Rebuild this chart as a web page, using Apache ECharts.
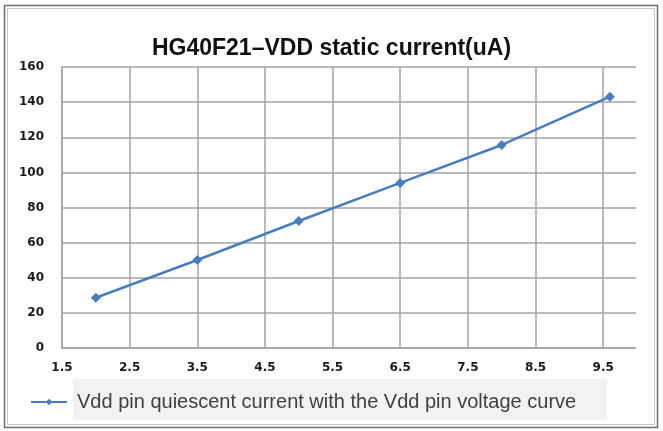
<!DOCTYPE html>
<html>
<head>
<meta charset="utf-8">
<script src="https://cdn.jsdelivr.net/npm/echarts@6/dist/echarts.min.js"></script>
<style>
  html, body { margin: 0; padding: 0; background: #fff; }
  #chart { width: 663px; height: 431px; }
</style>
</head>
<body>
<div id="chart"></div>
<script>
var voltage = [2.0, 3.5, 5.0, 6.5, 8.0, 9.6];
var current = [28.6, 50.1, 72.3, 94.0, 115.6, 143.1];
var seriesName = 'Vdd pin quiescent current with the Vdd pin voltage curve';

var myChart = echarts.init(document.getElementById('chart'));
var gridColor = '#a3a3a3';
var labelFont = { color: '#1a1a1a', fontFamily: 'DejaVu Sans', fontWeight: 'bold', fontSize: 12 };

var option = {
    animation: false,
    backgroundColor: '#fff',
    title: {
        text: 'HG40F21\u2013VDD static current(uA)',
        left: 'center',
        top: 32,
        textStyle: { fontFamily: 'Liberation Sans', fontWeight: 'bold', fontSize: 23, color: '#111' }
    },
    grid: { left: 62, right: 26, top: 67, bottom: 83 },
    xAxis: {
        type: 'value',
        min: 1.5,
        max: 10,
        interval: 1,
        axisLine: { show: true, lineStyle: { color: gridColor, width: 1.5 } },
        axisTick: { show: false },
        axisLabel: Object.assign({ margin: 14, showMaxLabel: false,
            formatter: function (v) { return v.toFixed(1); } }, labelFont),
        splitLine: { show: true, showMaxLine: false, lineStyle: { color: gridColor, width: 1.5 } }
    },
    yAxis: {
        type: 'value',
        min: 0,
        max: 160,
        interval: 20,
        axisLine: { show: true, lineStyle: { color: gridColor, width: 1.5 } },
        axisTick: { show: false },
        axisLabel: Object.assign({ margin: 18 }, labelFont),
        splitLine: { show: true, lineStyle: { color: gridColor, width: 1.5 } }
    },
    legend: {
        left: 25,
        top: 387,
        itemWidth: 36,
        itemHeight: 8,
        itemGap: 10,
        textStyle: { fontFamily: 'Liberation Sans', fontSize: 20, color: '#404040', padding: [0, 0, 0, 5] },
        data: [seriesName]
    },
    graphic: [
        { type: 'rect', z: -10, shape: { x: 4.5, y: 5.5, width: 653, height: 422 },
          style: { fill: 'none', stroke: '#6e6e6e', lineWidth: 1.5 } },
        { type: 'rect', z: -10, shape: { x: 7.5, y: 8.5, width: 647, height: 416 },
          style: { fill: 'none', stroke: '#c8c8c8', lineWidth: 1 } },
        { type: 'rect', z: -5, shape: { x: 73, y: 379, width: 534, height: 41 },
          style: { fill: '#f2f2f2' } },
        // the reference has no vertical line on the plot's right edge
        { type: 'rect', z: 1, shape: { x: 636, y: 60, width: 4, height: 292 },
          style: { fill: '#fff' } }
    ],
    series: [{
        name: seriesName,
        type: 'line',
        data: voltage.map(function (v, i) { return [v, current[i]]; }),
        symbol: 'diamond',
        symbolSize: 10,
        lineStyle: { color: '#4a7ebb', width: 2.5 },
        itemStyle: { color: '#4a7ebb' }
    }]
};

option && myChart.setOption(option);
</script>
</body>
</html>
